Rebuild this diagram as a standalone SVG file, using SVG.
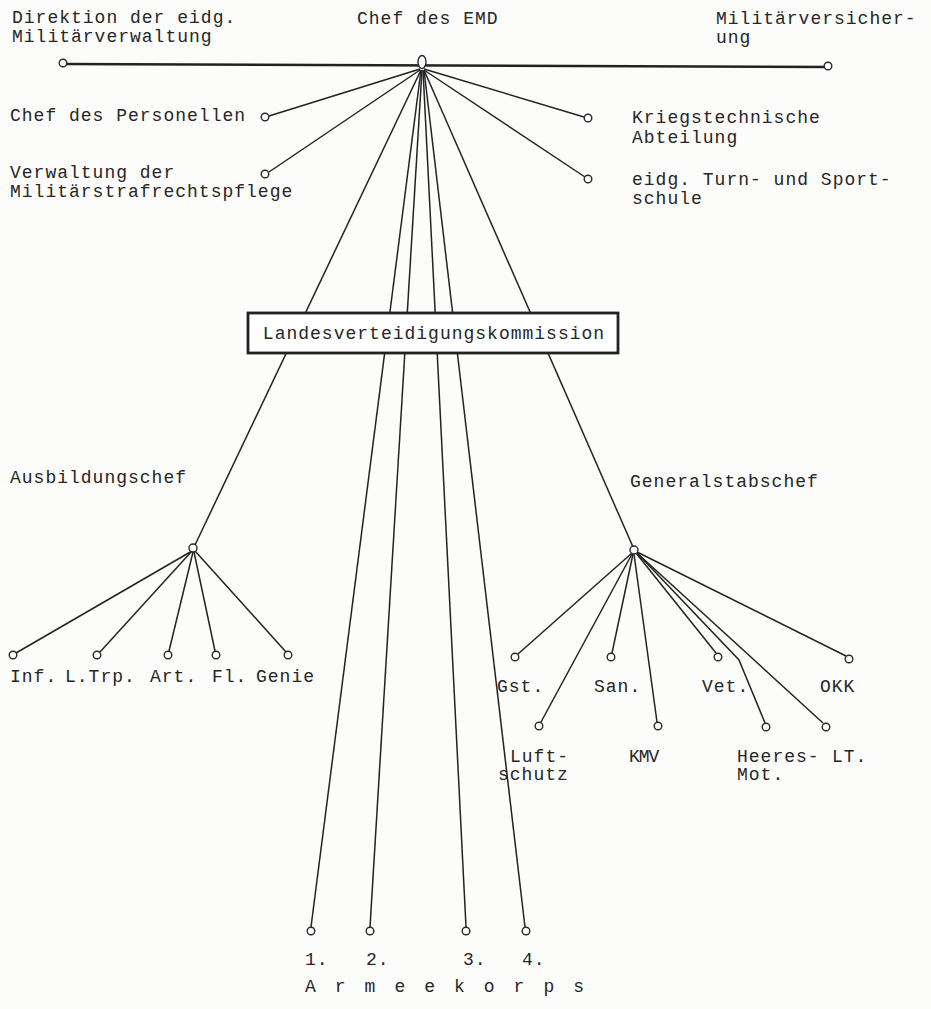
<svg xmlns="http://www.w3.org/2000/svg" width="931" height="1009" viewBox="0 0 931 1009">
<style>
text{font-family:"Liberation Mono","DejaVu Sans Mono",monospace;font-size:18px;letter-spacing:1px;fill:#262626}
.c{fill:#fff;stroke:#2a2a2a;stroke-width:1.4}
#connectors line,#connectors polyline{stroke:#222;stroke-width:1.5;fill:none}
</style>
<rect width="931" height="1009" fill="#fcfcfb"/>
<g id="connectors">
<line x1="63" y1="64" x2="828" y2="67" style="stroke-width:2.6"/>
<line x1="420" y1="69" x2="269" y2="116"/>
<line x1="420" y1="70" x2="269" y2="172"/>
<line x1="424" y1="69" x2="584" y2="117"/>
<line x1="424" y1="70" x2="585" y2="177"/>
<line x1="421" y1="70" x2="195" y2="545"/>
<line x1="424" y1="70" x2="633" y2="547"/>
<line x1="421" y1="70" x2="311" y2="927"/>
<line x1="422" y1="70" x2="370" y2="927"/>
<line x1="423" y1="70" x2="466" y2="927"/>
<line x1="424" y1="70" x2="525" y2="927"/>
<line x1="192" y1="551" x2="16" y2="653"/>
<line x1="192" y1="551" x2="100" y2="652"/>
<line x1="193" y1="552" x2="169" y2="651"/>
<line x1="194" y1="552" x2="215" y2="651"/>
<line x1="195" y1="551" x2="286" y2="652"/>
<line x1="632" y1="553" x2="518" y2="654"/>
<line x1="632" y1="554" x2="541" y2="722"/>
<line x1="633" y1="554" x2="612" y2="653"/>
<line x1="634" y1="554" x2="657" y2="722"/>
<line x1="636" y1="553" x2="716" y2="653"/>
<polyline points="637,553 739,660 765,723"/>
<line x1="637" y1="553" x2="823" y2="723"/>
<line x1="637" y1="552" x2="846" y2="656"/>
</g>
<g id="chef-emd"><ellipse class="c" cx="422" cy="62" rx="4" ry="6.5"/><text x="357" y="24">Chef des EMD</text></g>
<g id="direktion"><circle class="c" cx="63" cy="63" r="3.8"/><text x="12" y="23">Direktion der eidg.</text><text x="12" y="42">Militärverwaltung</text></g>
<g id="militaerversicherung"><circle class="c" cx="828" cy="66" r="3.8"/><text x="716" y="24">Militärversicher-</text><text x="716" y="43">ung</text></g>
<g id="personellen"><circle class="c" cx="265" cy="117" r="3.8"/><text x="10" y="121">Chef des Personellen</text></g>
<g id="strafrecht"><circle class="c" cx="265" cy="174" r="3.8"/><text x="10" y="178">Verwaltung der</text><text x="10" y="197">Militärstrafrechtspflege</text></g>
<g id="kriegstechnische"><circle class="c" cx="588" cy="118" r="3.8"/><text x="632" y="123">Kriegstechnische</text><text x="632" y="143">Abteilung</text></g>
<g id="turnschule"><circle class="c" cx="588" cy="179" r="3.8"/><text x="632" y="185">eidg. Turn- und Sport-</text><text x="632" y="204">schule</text></g>
<g id="landesverteidigung"><rect x="248" y="313" width="370" height="40" fill="#fff" stroke="#222" stroke-width="2.8"/><text x="434" y="339" text-anchor="middle">Landesverteidigungskommission</text></g>
<g id="ausbildungschef"><circle class="c" cx="193" cy="548" r="4"/><text x="10" y="483">Ausbildungschef</text></g>
<g id="inf"><circle class="c" cx="13" cy="655" r="3.8"/><text x="10" y="682">Inf.</text></g>
<g id="ltrp"><circle class="c" cx="97" cy="655" r="3.8"/><text x="65" y="682">L.Trp.</text></g>
<g id="art"><circle class="c" cx="168" cy="655" r="3.8"/><text x="150" y="682">Art.</text></g>
<g id="fl"><circle class="c" cx="216" cy="655" r="3.8"/><text x="212" y="682">Fl.</text></g>
<g id="genie"><circle class="c" cx="288" cy="655" r="3.8"/><text x="256" y="682">Genie</text></g>
<g id="generalstabschef"><circle class="c" cx="634" cy="550" r="4"/><text x="630" y="487">Generalstabschef</text></g>
<g id="gst"><circle class="c" cx="515" cy="657" r="3.8"/><text x="497" y="692">Gst.</text></g>
<g id="luftschutz"><circle class="c" cx="539" cy="726" r="3.8"/><text x="510" y="762">Luft-</text><text x="498" y="780">schutz</text></g>
<g id="san"><circle class="c" cx="611" cy="657" r="3.8"/><text x="594" y="692">San.</text></g>
<g id="kmv"><circle class="c" cx="658" cy="726" r="3.8"/><text x="629" y="762" style="letter-spacing:-1px">KMV</text></g>
<g id="vet"><circle class="c" cx="718" cy="657" r="3.8"/><text x="702" y="692">Vet.</text></g>
<g id="heeresmot"><circle class="c" cx="766" cy="727" r="3.8"/><text x="737" y="762">Heeres-</text><text x="737" y="780">Mot.</text></g>
<g id="lt"><circle class="c" cx="826" cy="727" r="3.8"/><text x="832" y="762">LT.</text></g>
<g id="okk"><circle class="c" cx="849" cy="659" r="3.8"/><text x="820" y="692">OKK</text></g>
<g id="ak1"><circle class="c" cx="311" cy="931" r="3.8"/><text x="305" y="965">1.</text></g>
<g id="ak2"><circle class="c" cx="370" cy="931" r="3.8"/><text x="366" y="965">2.</text></g>
<g id="ak3"><circle class="c" cx="466" cy="931" r="3.8"/><text x="463" y="965">3.</text></g>
<g id="ak4"><circle class="c" cx="526" cy="931" r="3.8"/><text x="522" y="965">4.</text></g>
<g id="armeekorps"><text x="305" y="992" style="letter-spacing:4.1px">A r m e e k o r p s</text></g>
</svg>
